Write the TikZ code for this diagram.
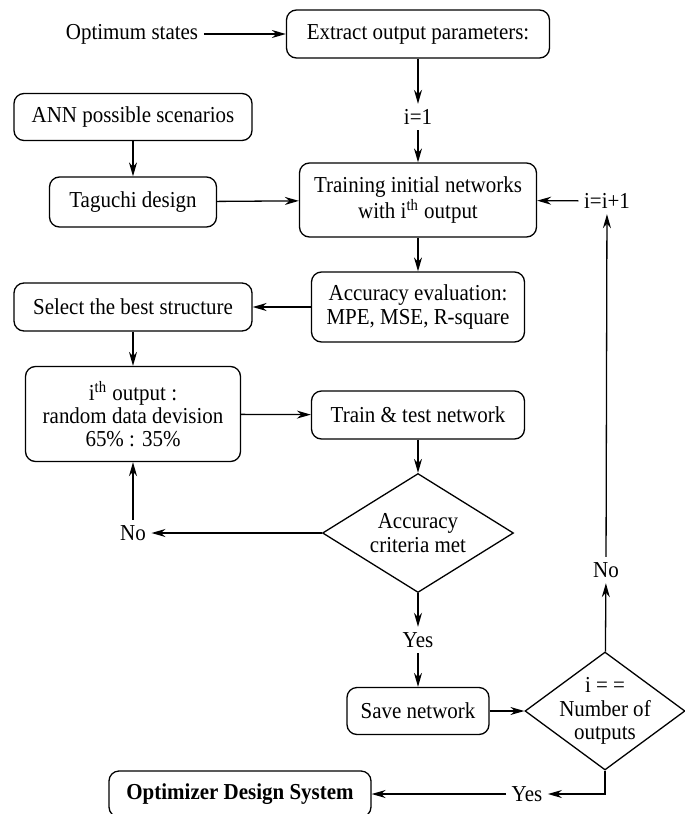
\documentclass[tikz,border=0pt]{standalone}
\usepackage{fontspec}
\setmainfont{Liberation Serif}[FakeStretch=0.92]
\usetikzlibrary{shapes.geometric,arrows.meta}

\begin{document}
\begin{tikzpicture}[x=0.5pt,y=-0.5pt,
        font=\fontsize{11.4}{11.6}\selectfont,
        >={Stealth[length=7pt,width=4pt]},
        every path/.style={line width=0.65pt},
        box/.style={draw,rounded corners=5pt,align=center,inner sep=1pt},
        test/.style={draw,diamond,align=center,inner sep=-12pt},
        lbl/.style={inner sep=2.5pt}]
    \useasboundingbox (0,0) rectangle (685,814);

    \node[lbl] (opt) at (132,34) {Optimum states};
    \node[box,minimum width=131.5pt,minimum height=24pt] (ext) at (418,34) {Extract output parameters:};
    \node[lbl] (i1) at (418,117) {i=1};
    \node[box,minimum width=119pt,minimum height=23.5pt] (ann) at (133,117) {ANN possible scenarios};
    \node[box,minimum width=83.5pt,minimum height=25pt] (tag) at (133,202) {Taguchi design};
    \node[box,minimum width=118.5pt,minimum height=37pt] (train) at (418,200) {Training initial networks\\ with i\textsuperscript{th} output};
    \node[lbl] (inc) at (607,201) {i=i+1};
    \node[box,minimum width=106.5pt,minimum height=35pt] (acc) at (418,307) {Accuracy evaluation:\\ MPE, MSE, R-square};
    \node[box,minimum width=119pt,minimum height=24pt] (sel) at (133,307) {Select the best structure};
    \node[box,minimum width=107.5pt,minimum height=47.5pt] (ith) at (133,414) {i\textsuperscript{th} output :\\ random data devision\\ 65\% : 35\%};
    \node[box,minimum width=106.5pt,minimum height=24pt] (tt) at (418,415) {Train \& test network};
    \node[test,minimum width=95.5pt,minimum height=59.5pt] (acrit) at (418,533) {Accuracy\\ criteria met};
    \node[lbl] (no1) at (133,533) {No};
    \node[lbl] (yes1) at (418,640) {Yes};
    \node[box,minimum width=71pt,minimum height=23.5pt] (save) at (418,711) {Save network};
    \node[test,minimum width=80pt,minimum height=59pt] (last) at (605,711) {i = =\\ Number of\\ outputs};
    \node[lbl] (no2) at (606,570) {No};
    \node[lbl] (yes2) at (527,794) {Yes};
    \node[box,minimum width=131pt,minimum height=23pt] (ods) at (240,794) {\textbf{Optimizer Design System}};

    \draw[->] (opt) to (ext);
    \draw[->] (ext) to (i1); \draw[->] (i1) to (train);
    \draw[->] (ann) to (tag); \draw[->] (tag) to (train);
    \draw[->] (inc) to (train);
    \draw[->] (train) to (acc); \draw[->] (acc) to (sel);
    \draw[->] (sel) to (ith); \draw[->] (ith) to (tt);
    \draw[->] (tt) to (acrit);
    \draw[->] (acrit) to (no1); \draw[->] (no1) to (ith);
    \draw[->] (acrit) to (yes1); \draw[->] (yes1) to (save);
    \draw[->] (save) to (last);
    \draw[->] (last) to (no2); \draw[->] (no2) to (inc);
    \draw[->] (last.south) |- (yes2); \draw[->] (yes2) to (ods);
\end{tikzpicture}
\end{document}
